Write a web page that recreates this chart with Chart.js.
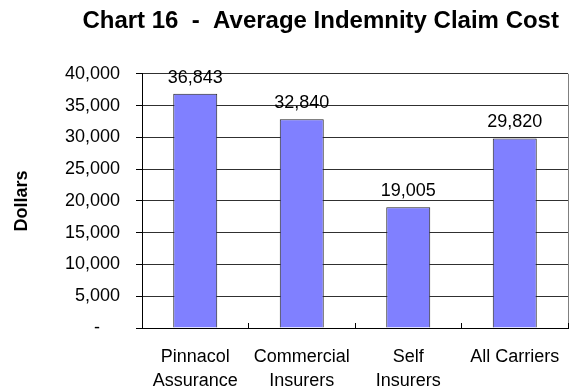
<!DOCTYPE html>
<html>
<head>
<meta charset="utf-8">
<script src="https://cdn.jsdelivr.net/npm/chart.js@4/dist/chart.umd.min.js"></script>
<style>
    html, body { margin: 0; padding: 0; background: #ffffff; }
    #wrap { width: 572px; height: 388px; }
</style>
</head>
<body>
<div id="wrap"><canvas id="graphCout"></canvas></div>
<script>
// ============================================
// Data
// ============================================
var categories = [["Pinnacol", "Assurance"], ["Commercial", "Insurers"], ["Self", "Insurers"], ["All Carriers"]];
var coutMoyen = [36843, 32840, 19005, 29820];
var titre = "Chart 16  -  Average Indemnity Claim Cost";
var titreAxe = "Dollars";

var police = "'Liberation Sans', Arial, sans-serif";

// Format "36,843" ; zero shown as a dash
function formatNombre(v) {
    if (v === 0) return "-\u2007\u2007";
    return Number(v).toLocaleString("en-US");
}

// ============================================
// Plugin: value above each bar
// ============================================
var etiquettesBarres = {
    id: "etiquettesBarres",
    afterDatasetsDraw: function (chart) {
        var ctx = chart.ctx;
        var meta = chart.getDatasetMeta(0);
        ctx.save();
        ctx.font = "18px " + police;
        ctx.fillStyle = "#000000";
        ctx.textAlign = "center";
        ctx.textBaseline = "alphabetic";
        meta.data.forEach(function (bar, i) {
            ctx.fillText(formatNombre(coutMoyen[i]), bar.x, bar.y - 11);
        });
        ctx.restore();
    }
};

// ============================================
// Chart
// ============================================
var ctx = document.getElementById("graphCout").getContext("2d");
new Chart(ctx, {
    type: "bar",
    data: {
        labels: categories,
        datasets: [{
            label: "Average Indemnity Claim Cost",
            data: coutMoyen,
            backgroundColor: "#8080ff",
            borderColor: "#202020",
            borderWidth: 1,
            barPercentage: 0.413,
            categoryPercentage: 1
        }]
    },
    options: {
        responsive: true,
        maintainAspectRatio: false,
        animation: false,
        layout: { padding: { left: 0, right: 4, top: 0, bottom: 0 } },
        plugins: {
            legend: { display: false },
            tooltip: { enabled: false },
            title: {
                display: true,
                // leading spaces push the title a bit to the right, like the original
                text: "           " + titre,
                color: "#000000",
                font: { family: police, size: 24, weight: "bold", lineHeight: 1.2 },
                padding: { top: 7, bottom: 38 }
            }
        },
        scales: {
            x: {
                grid: {
                    offset: true,
                    drawOnChartArea: true,
                    // only the right edge line of the plot area is visible
                    color: function (c) { return c.index === undefined ? "#808080" : "rgba(0,0,0,0)"; },
                    tickColor: "#000000",
                    tickLength: -5
                },
                border: { color: "#000000", width: 1 },
                ticks: {
                    color: "#000000",
                    font: { family: police, size: 18, lineHeight: 1.333 },
                    padding: 22,
                    maxRotation: 0,
                    autoSkip: false
                },
                afterFit: function (scale) {
                    scale.height = 60;
                    // labels fit inside the plot width, no side padding needed
                    scale.paddingLeft = 0;
                    scale.paddingRight = 0;
                }
            },
            y: {
                min: 0,
                max: 40000,
                grid: {
                    color: "#303030",
                    tickColor: "#000000",
                    tickLength: 6
                },
                border: { color: "#000000", width: 1 },
                ticks: {
                    stepSize: 5000,
                    color: "#000000",
                    font: { family: police, size: 18 },
                    padding: 16,
                    callback: function (v) { return formatNombre(v); }
                },
                title: {
                    display: true,
                    text: titreAxe,
                    color: "#000000",
                    font: { family: police, size: 18, weight: "bold", lineHeight: 1.2 },
                    padding: { top: 11, bottom: 0 }
                },
                afterFit: function (scale) { scale.width = 142; }
            }
        }
    },
    plugins: [etiquettesBarres]
});
</script>
</body>
</html>
